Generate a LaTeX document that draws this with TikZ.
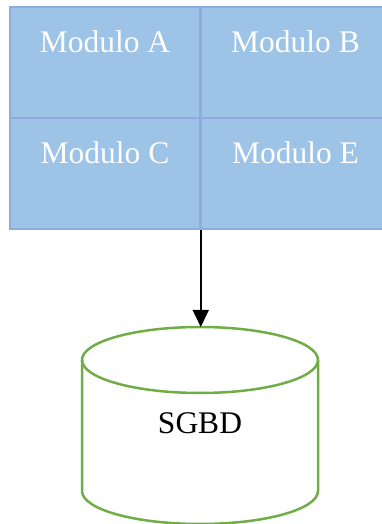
\documentclass[tikz,border=0pt]{standalone}
\usepackage{fontspec}
\setmainfont{Liberation Serif}
\usetikzlibrary{arrows.meta}
\definecolor{modfill}{RGB}{157,195,230}
\definecolor{modline}{RGB}{143,170,220}
\definecolor{dbline}{RGB}{112,173,71}
\tikzset{
  modbox/.style={draw=modline, line width=2.5pt, fill=modfill, minimum width=190pt, minimum height=111pt, inner sep=0pt},
  modtext/.style={anchor=base, text=white, font=\fontsize{31.5}{36}\selectfont, inner sep=0pt},
  dbtext/.style={anchor=base, text=black, font=\fontsize{31.5}{36}\selectfont, inner sep=0pt},
  dbshape/.style={draw=dbline, line width=2.5pt},
  link/.style={line width=1.5pt, -{Triangle[width=16pt,length=17pt]}}
}
\begin{document}
\begin{tikzpicture}[x=1pt,y=1pt]
  \clip (0,0) rectangle (382,524);
  % module grid
  \node[modbox] (a) at (105,461.5) {};
  \node[modbox] (b) at (295.5,461.5) {};
  \node[modbox] (c) at (105,350.5) {};
  \node[modbox] (e) at (295.5,350.5) {};
  \node[modtext] (ta) at ([yshift=-47pt]a.north) {Modulo A};
  \node[modtext] (tb) at ([yshift=-47pt]b.north) {Modulo B};
  \node[modtext] (tc) at ([yshift=-47pt]c.north) {Modulo C};
  \node[modtext] (te) at ([yshift=-47pt]e.north) {Modulo E};
  % database cylinder
  \draw[dbshape] (82,164) -- (82,33) arc (180:360:118 and 33) -- (318,164);
  \draw[dbshape] (200,164) ellipse (118 and 33);
  \node[dbtext] (db) at (200,90) {SGBD};
  % link from modules to the database
  \coordinate (src) at ([xshift=1.5pt]e.south west);
  \coordinate (dbtop) at (src |- 0,197);
  \draw[link] (src) -- (dbtop);
\end{tikzpicture}
\end{document}
